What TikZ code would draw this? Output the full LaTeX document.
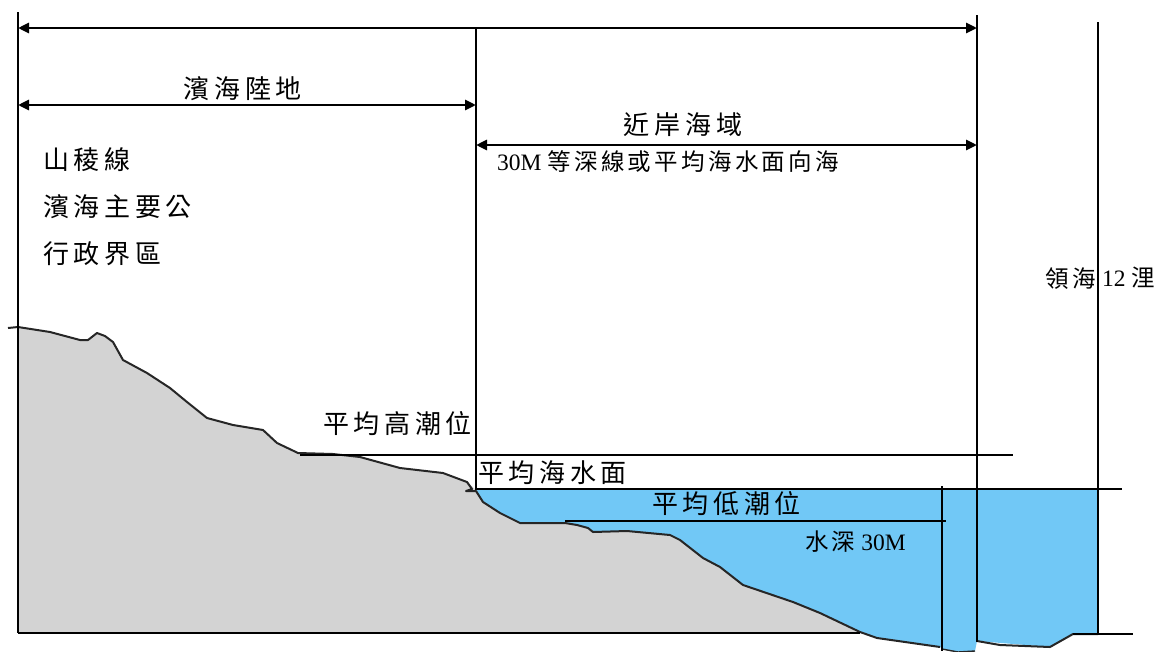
\documentclass[tikz,border=0pt]{standalone}
\usepackage{fontspec}
\setmainfont{Liberation Serif}
\newfontfamily\cjkbig[LetterSpace=18]{Noto Sans CJK TC}
\newfontfamily\cjksmall[LetterSpace=14]{Noto Sans CJK TC}
\usetikzlibrary{arrows.meta}
\definecolor{landgrey}{RGB}{211,211,211}
\definecolor{seablue}{RGB}{113,200,246}
\tikzset{
  rule/.style={line width=2.8pt, black},
  dimline/.style={line width=2.8pt, black, {Triangle[length=11pt,width=10pt]}-{Triangle[length=11pt,width=10pt]}},
  contour/.style={line width=2pt, black!85, line join=round},
  biglabel/.style={inner sep=0pt, font=\fontsize{26}{30}\selectfont\cjkbig},
  smalllabel/.style={inner sep=0pt, font=\fontsize{23.5}{28}\selectfont},
}
\begin{document}
\begin{tikzpicture}[x=1pt, y=-1pt]
\useasboundingbox (0,0) rectangle (1167,651);

% sea water below mean sea level
\fill[seablue] (476,489) -- (1098,489) -- (1098,634) -- (1073,634) -- (1050,647)
  -- (977,641) -- (975,651) -- (958,652) -- (942,649) -- (940,647) -- (877,638)
  -- (860,632) -- (820,613) -- (793,602) -- (743,585) -- (720,567) -- (703,558)
  -- (680,540) -- (670,535) -- (627,531) -- (593,532) -- (588,528) -- (577,525)
  -- (565,523) -- (520,523) -- (500,513) -- (483,502) -- cycle;

% land cross-section
\fill[landgrey] (18,327) -- (50,332) -- (80,340) -- (88,340) -- (97,333) -- (105,336)
  -- (113,342) -- (123,360) -- (147,373) -- (170,388) -- (187,402) -- (207,418)
  -- (233,425) -- (263,430) -- (277,443) -- (298,453) -- (333,454) -- (360,457)
  -- (400,468) -- (443,473) -- (467,482) -- (476,490) -- (483,502) -- (500,513)
  -- (520,523) -- (565,523) -- (577,525) -- (588,528) -- (593,532) -- (627,531)
  -- (670,535) -- (680,540) -- (703,558) -- (720,567) -- (743,585) -- (793,602)
  -- (820,613) -- (860,632) -- (860,633) -- (18,633) -- cycle;

% ground and seabed outline
\draw[contour] (8,328) -- (18,327) -- (50,332) -- (80,340) -- (88,340) -- (97,333) -- (105,336)
  -- (113,342) -- (123,360) -- (147,373) -- (170,388) -- (187,402) -- (207,418)
  -- (233,425) -- (263,430) -- (277,443) -- (298,453) -- (333,454) -- (360,457)
  -- (400,468) -- (443,473) -- (467,482) -- (472,489) -- (466,491) -- (476,491) -- (483,502) -- (500,513)
  -- (520,523) -- (565,523) -- (577,525) -- (588,528) -- (593,532) -- (627,531)
  -- (670,535) -- (680,540) -- (703,558) -- (720,567) -- (743,585) -- (793,602)
  -- (820,613) -- (860,632) -- (877,638) -- (940,647);
\draw[contour, line width=1.4pt] (942,649) -- (958,652) -- (975,651);
\draw[contour] (977,641) -- (1000,645) -- (1050,647) -- (1073,634) -- (1098,634);

% slope hatch marks
\foreach \a/\b/\c/\d in {143,374,151,377, 168,390,177,393, 228,425,238,427, 260,430,268,433,
  280,444,288,447, 352,457,362,460, 403,469,413,471, 438,474,448,476}
  \draw[line width=1pt, black!80] (\a,\b) -- (\c,\d);

% reference points
\coordinate (LT) at (18,12);
\coordinate (LB) at (18,633);
\coordinate (MT) at (476,28);
\coordinate (MB) at (476,490);
\coordinate (RT) at (977,15);
\coordinate (RB) at (977,642);
\coordinate (TT) at (1098,22);
\coordinate (TB) at (1098,634);
\coordinate (A1l) at (18,28);
\coordinate (A1r) at (977,28);
\coordinate (A2l) at (18,105);
\coordinate (A2r) at (476,105);
\coordinate (A3l) at (476,145);
\coordinate (A3r) at (977,145);
\coordinate (HTl) at (300,455);
\coordinate (HTr) at (1013,455);
\coordinate (MSl) at (476,489);
\coordinate (MSr) at (1122,489);
\coordinate (LWl) at (565,521);
\coordinate (LWr) at (946,521);
\coordinate (BTl) at (18,633);
\coordinate (BTr) at (860,633);
\coordinate (SBl) at (1073,634);
\coordinate (SBr) at (1133,634);
\coordinate (DPt) at (942,486);
\coordinate (DPb) at (942,651);

% frame lines
\draw[rule] (LT) -- (LB);
\draw[rule] (MT) -- (MB);
\draw[rule] (RT) -- (RB);
\draw[rule] (TT) -- (TB);
\draw[rule] (BTl) -- (BTr);
\draw[rule, line width=1.6pt] (SBl) -- (SBr);
\draw[rule] (DPt) -- (DPb);

% tide levels
\draw[rule] (HTl) -- (HTr);
\draw[rule] (MSl) -- (MSr);
\draw[rule] (LWl) -- (LWr);

% extent arrows
\draw[dimline] (A1l) -- (A1r);
\draw[dimline] (A2l) -- (A2r);
\draw[dimline] (A3l) -- (A3r);

% labels
\node[biglabel] (land) at (243,89) {濱海陸地};
\node[biglabel] (near) at (683,125) {近岸海域};
\node[smalllabel, anchor=west] (nearsub) at (497,162) {30M {\cjksmall 等深線或平均海水面向海}};
\node[biglabel, anchor=west] (ridge) at (43,160) {山稜線};
\node[biglabel, anchor=west] (road) at (43,207) {濱海主要公};
\node[biglabel, anchor=west] (admin) at (43,254) {行政界區};
\node[biglabel, anchor=east] (hwl) at (472,424) {平均高潮位};
\node[biglabel, anchor=west] (msl) at (478,473) {平均海水面};
\node[biglabel, anchor=west] (lwl) at (652,504) {平均低潮位};
\node[smalllabel, anchor=west] (depth) at (805,542) {{\cjksmall 水深} 30M};
\node[smalllabel, anchor=east] (terr) at (1096,278) {\cjksmall 領海};
\node[smalllabel, anchor=west] (nm) at (1102,278) {12 {\cjksmall 浬}};
\end{tikzpicture}
\end{document}
